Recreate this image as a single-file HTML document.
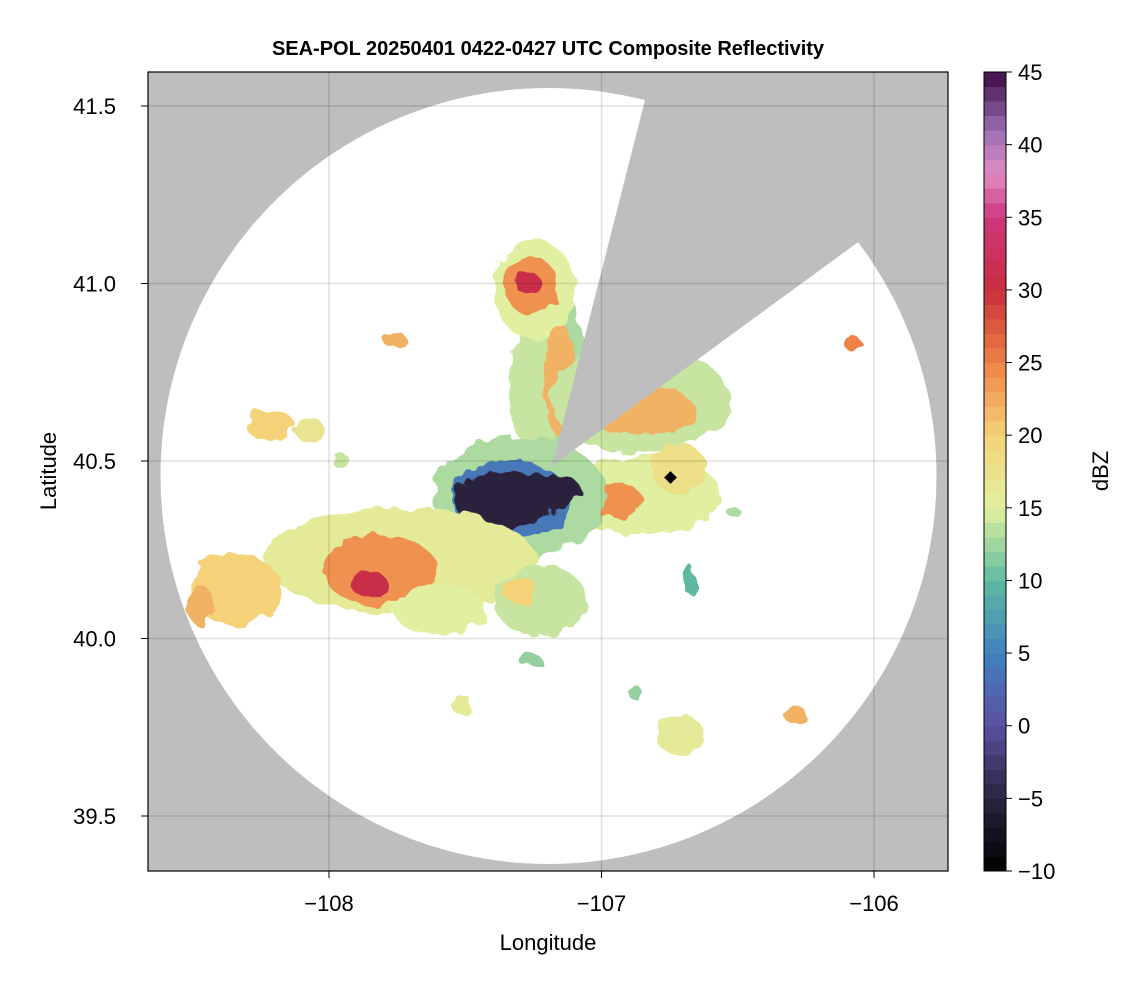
<!DOCTYPE html>
<html><head><meta charset="utf-8"><style>
body{margin:0;background:#fff;width:1146px;height:990px;overflow:hidden}
svg text{font-family:"Liberation Sans",sans-serif}
</style></head><body>
<svg id="c" width="1146" height="990">
<defs>
<clipPath id="circ"><circle cx="548.5" cy="476" r="388"/></clipPath>
<clipPath id="plot"><rect x="148" y="72" width="800" height="799"/></clipPath>
<filter id="rough" x="-20%" y="-20%" width="140%" height="140%">
<feTurbulence type="fractalNoise" baseFrequency="0.06" numOctaves="2" seed="3"/>
<feDisplacementMap in="SourceGraphic" scale="14"/>
</filter>
</defs>
<text x="548" y="55" text-anchor="middle" font-size="20" font-weight="bold">SEA-POL 20250401 0422-0427 UTC Composite Reflectivity</text>
<g clip-path="url(#plot)">
<rect x="148" y="72" width="800" height="799" fill="#bebebe"/>
<circle cx="548.5" cy="476" r="388" fill="#fff"/>
<g id="blobs" clip-path="url(#circ)" filter="url(#rough)"></g>
<polygon points="552,466 646,96 960,60 960,167 861,240" fill="#bebebe"/>
<g id="grid"></g>
<rect x="666" y="473" width="9" height="9" transform="rotate(45 670.5 477.5)" fill="#000"/>
</g>
<rect x="148" y="72" width="800" height="799" fill="none" stroke="#000" stroke-width="1.2"/>
<g id="axes"></g>
<text x="548" y="950" text-anchor="middle" font-size="22">Longitude</text>
<text transform="translate(56 471) rotate(-90)" text-anchor="middle" font-size="22">Latitude</text>
<g id="cbar"></g>
<text transform="translate(1108 471) rotate(-90)" text-anchor="middle" font-size="22">dBZ</text>
</svg>
<script>
const NS="http://www.w3.org/2000/svg";
const lonTicks=[-108,-107,-106];
const latTicks=[41.5,41.0,40.5,40.0,39.5];
const cbTicks=[-10,-5,0,5,10,15,20,25,30,35,40,45];
const blobLon=[-107.18,-107.24,-107.244,-107.262,-107.270,-107.152,-106.859,-106.859,-106.859,-106.969,-106.712,-107.30,-107.33,-107.354,-107.189,-107.739,-107.813,-107.850,-108.345,-108.473,-107.593,-107.226,-107.299,-108.217,-108.07,-107.758,-106.077,-106.712,-106.29,-106.675,-107.262,-107.512,-106.88,-106.52,-107.96];
const blobLat=[40.75,40.70,40.982,40.996,41.001,40.728,40.672,40.644,40.404,40.390,40.475,40.40,40.39,40.390,40.418,40.221,40.193,40.151,40.137,40.094,40.080,40.108,40.137,40.601,40.587,40.841,40.83,39.728,39.785,40.165,39.939,39.813,39.85,40.36,40.503];
const blobRx=[.12,.10,.15,.10,.044,.06,.33,.2,.3,.12,.1,.32,.22,.19,.11,.5,.21,.07,.17,.05,.17,.17,.06,.09,.055,.044,.03,.09,.044,.022,.044,.03,.022,.022,.03];
const blobRy=[.26,.18,.14,.08,.034,.16,.15,.07,.11,.05,.07,.17,.11,.08,.05,.15,.1,.034,.1,.056,.07,.1,.042,.042,.034,.022,.022,.056,.022,.042,.017,.034,.022,.017,.022];
const blobDbz=[13,14,15,24,31,22,14,22,15,24,18,13,4,-5,-5,16,24,31,20,22,15,14,20,20,17,22,25,16,22,10,12,16,12,13,14];
const X=l=>329+(l+108)*272.5, Y=a=>106+(41.5-a)*355;
const cStops=[[-10,[0,0,0]],[-5,[42,36,62]],[0,[90,80,160]],[5,[65,130,190]],[10,[95,185,160]],[15,[225,240,160]],[20,[245,210,120]],[25,[238,130,70]],[30,[200,45,60]],[35,[205,55,125]],[38,[225,140,195]],[41,[155,110,180]],[45,[60,10,70]]];
function col(v){for(let i=0;i<cStops.length-1;i++){const[a,ca]=cStops[i],[b,cb]=cStops[i+1];if(v<=b){const t=Math.max(0,(v-a)/(b-a));return`rgb(${ca.map((c,j)=>Math.round(c+(cb[j]-c)*t)).join(',')})`;}}return'rgb(60,10,70)';}
const grid=document.getElementById('grid'),axes=document.getElementById('axes'),blobs=document.getElementById('blobs'),cbar=document.getElementById('cbar');
function mk(tag,attrs,parent){const e=document.createElementNS(NS,tag);for(const k in attrs)e.setAttribute(k,attrs[k]);parent.appendChild(e);return e;}
lonTicks.forEach(v=>{const x=X(v);
 const g=mk('line',{x1:x,x2:x,y1:72,y2:871,stroke:'rgba(0,0,0,0.12)','stroke-width':1.5},grid);
 
 
 const t=mk('line',{x1:x,x2:x,y1:871,y2:878,stroke:'#000'},axes);
 
 
 const l=mk('text',{x:x,y:911,'text-anchor':'middle','font-size':22},axes);l.textContent=v.toString().replace('-','\u2212');
 
 });
latTicks.forEach(v=>{const y=Y(v);
 const g=mk('line',{x1:148,x2:948,y1:y,y2:y,stroke:'rgba(0,0,0,0.12)','stroke-width':1.5},grid);
 
 
 const t=mk('line',{x1:141,x2:148,y1:y,y2:y,stroke:'#000'},axes);
 
 
 const l=mk('text',{x:116,y:y+8,'text-anchor':'end','font-size':22},axes);l.textContent=v.toFixed(1);
 
 });
blobLon.forEach((lo,i)=>{const e=mk('ellipse',{cx:X(lo),cy:Y(blobLat[i]),rx:blobRx[i]*272.5,ry:blobRy[i]*355,fill:col(blobDbz[i])},blobs);
 
 });
const cy=v=>871-(v+10)*(799/55);
for(let v=-10;v<45;v+=1){const r=mk('rect',{x:984,y:cy(v+1),width:22,height:799/55+0.5,fill:col(v+0.5)},cbar);
 
 }
const fr=mk('rect',{x:984,y:72,width:22,height:799,fill:'none',stroke:'#000','stroke-width':1},cbar);


cbTicks.forEach(v=>{const y=cy(v);
 const t=mk('line',{x1:1006,x2:1012,y1:y,y2:y,stroke:'#000'},cbar);
 
 
 const l=mk('text',{x:1018,y:y+8,'font-size':22},cbar);l.textContent=v.toString().replace('-','\u2212');
 
 });
</script>
</body></html>
